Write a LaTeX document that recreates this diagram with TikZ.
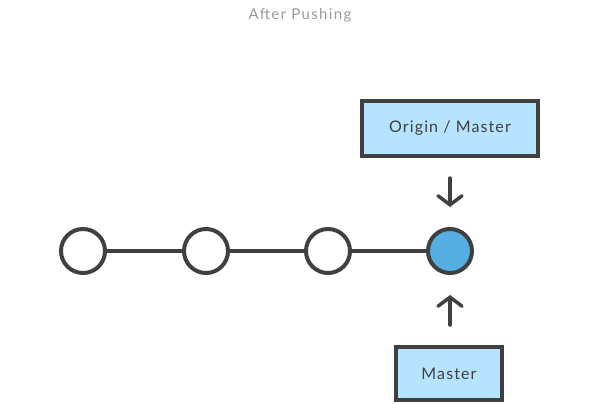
\documentclass[tikz,border=0pt]{standalone}
\usepackage{fontspec}
\setmainfont{Lato}
\newfontfamily\spacedfont[LetterSpace=7]{Lato}
\newfontfamily\titlefont[LetterSpace=9]{Lato}
\usetikzlibrary{arrows.meta}
\definecolor{ink}{HTML}{404040}
\definecolor{boxfill}{HTML}{B6E3FF}
\definecolor{headfill}{HTML}{56ADE2}
\definecolor{titlegray}{HTML}{999999}
\tikzset{
  commit/.style={circle, draw=ink, line width=4pt, fill=white, minimum size=44pt, inner sep=0pt},
  headcommit/.style={commit, fill=headfill},
  link/.style={draw=ink, line width=4pt},
  refbox/.style={draw=ink, line width=4pt, fill=boxfill, inner sep=0pt, font=\spacedfont\fontsize{16}{19}\selectfont, text=ink},
  pointer/.style={draw=ink, line width=3.5pt, line cap=round, -{Straight Barb[length=9pt, width=24pt, line width=3.5pt, line cap=round]}},
}
\begin{document}
\begin{tikzpicture}[x=1pt, y=-1pt]
\useasboundingbox (0,0) rectangle (600,404);
\node[font=\titlefont\fontsize{15}{18}\selectfont, text=titlegray] (title) at (300,15) {After Pushing};
\node[commit] (c1) at (83,251) {};
\node[commit] (c2) at (206,251) {};
\node[commit] (c3) at (328,251) {};
\node[headcommit] (c4) at (450,251) {};
\draw[link] (c1) -- (c2);
\draw[link] (c2) -- (c3);
\draw[link] (c3) -- (c4);
\node[refbox, minimum width=176pt, minimum height=55pt] (om) at (450,128.5) {Origin / Master};
\node[refbox, minimum width=106pt, minimum height=53pt] (ms) at (449,373.5) {Master};
\coordinate (a1s) at (450,178);
\coordinate (a1e) at (450,207);
\coordinate (a2s) at (450,325);
\coordinate (a2e) at (450,295);
\draw[pointer] (a1s) -- (a1e);
\draw[pointer] (a2s) -- (a2e);
\end{tikzpicture}
\end{document}
